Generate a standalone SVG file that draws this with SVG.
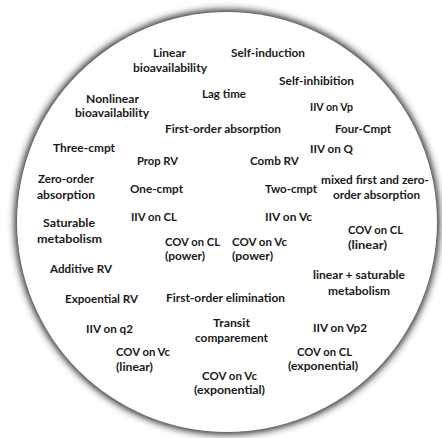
<svg xmlns="http://www.w3.org/2000/svg" width="442" height="438" viewBox="0 0 442 438">
  <style>
    .lbl { font-family: Lato, "Open Sans", "Liberation Sans", sans-serif; font-weight: bold; font-size: 12px; fill: #1a1a1a; }
  </style>
  <defs>
    <filter id="rim" x="-10%" y="-10%" width="120%" height="120%">
      <feGaussianBlur stdDeviation="3.5"/>
    </filter>
  </defs>
  <rect width="442" height="438" fill="#fff"/>
  <!-- circular field with soft grey rim -->
  <g id="field">
    <circle cx="227" cy="222" r="212.5" fill="#2e2e2e" filter="url(#rim)"/>
    <circle cx="227" cy="222" r="210" fill="#fff"/>
  </g>
  <g id="labels" class="lbl">
    <g id="linear-bioavailability">
      <text x="153" y="57" textLength="33" lengthAdjust="spacingAndGlyphs">Linear</text>
      <text x="133" y="72" textLength="74" lengthAdjust="spacingAndGlyphs">bioavailability</text>
    </g>
    <g id="self-induction"><text x="231" y="57" textLength="74" lengthAdjust="spacingAndGlyphs">Self-induction</text></g>
    <g id="self-inhibition"><text x="279" y="85" textLength="75" lengthAdjust="spacingAndGlyphs">Self-inhibition</text></g>
    <g id="nonlinear-bioavailability">
      <text x="86" y="103" textLength="53" lengthAdjust="spacingAndGlyphs">Nonlinear</text>
      <text x="75" y="117" textLength="74" lengthAdjust="spacingAndGlyphs">bioavailability</text>
    </g>
    <g id="lag-time"><text x="202" y="98" textLength="44" lengthAdjust="spacingAndGlyphs">Lag time</text></g>
    <g id="iiv-vp"><text x="310" y="111" textLength="43" lengthAdjust="spacingAndGlyphs">IIV on Vp</text></g>
    <g id="first-order-absorption"><text x="165" y="133" textLength="116" lengthAdjust="spacingAndGlyphs">First-order absorption</text></g>
    <g id="four-cmpt"><text x="335" y="133" textLength="56" lengthAdjust="spacingAndGlyphs">Four-Cmpt</text></g>
    <g id="three-cmpt"><text x="53" y="152" textLength="62" lengthAdjust="spacingAndGlyphs">Three-cmpt</text></g>
    <g id="iiv-q"><text x="310" y="153" textLength="43" lengthAdjust="spacingAndGlyphs">IIV on Q</text></g>
    <g id="prop-rv"><text x="137" y="165" textLength="41" lengthAdjust="spacingAndGlyphs">Prop RV</text></g>
    <g id="comb-rv"><text x="250" y="165" textLength="49" lengthAdjust="spacingAndGlyphs">Comb RV</text></g>
    <g id="zero-order-absorption">
      <text x="38" y="183" textLength="56" lengthAdjust="spacingAndGlyphs">Zero-order</text>
      <text x="37" y="199" textLength="58" lengthAdjust="spacingAndGlyphs">absorption</text>
    </g>
    <g id="one-cmpt"><text x="130" y="193" textLength="53" lengthAdjust="spacingAndGlyphs">One-cmpt</text></g>
    <g id="two-cmpt"><text x="265" y="193" textLength="52" lengthAdjust="spacingAndGlyphs">Two-cmpt</text></g>
    <g id="mixed-absorption">
      <text x="321" y="184" textLength="108" lengthAdjust="spacingAndGlyphs">mixed first and zero-</text>
      <text x="333" y="199" textLength="87" lengthAdjust="spacingAndGlyphs">order absorption</text>
    </g>
    <g id="iiv-cl"><text x="131" y="221" textLength="46" lengthAdjust="spacingAndGlyphs">IIV on CL</text></g>
    <g id="iiv-vc"><text x="265" y="221" textLength="47" lengthAdjust="spacingAndGlyphs">IIV on Vc</text></g>
    <g id="saturable-metabolism">
      <text x="43" y="227" textLength="52" lengthAdjust="spacingAndGlyphs">Saturable</text>
      <text x="37" y="243" textLength="65" lengthAdjust="spacingAndGlyphs">metabolism</text>
    </g>
    <g id="cov-cl-linear">
      <text x="348" y="234" textLength="55" lengthAdjust="spacingAndGlyphs">COV on CL</text>
      <text x="348" y="249" textLength="39" lengthAdjust="spacingAndGlyphs">(linear)</text>
    </g>
    <g id="cov-cl-power">
      <text x="165" y="246" textLength="55" lengthAdjust="spacingAndGlyphs">COV on CL</text>
      <text x="165" y="260" textLength="40" lengthAdjust="spacingAndGlyphs">(power)</text>
    </g>
    <g id="cov-vc-power">
      <text x="232" y="246" textLength="55" lengthAdjust="spacingAndGlyphs">COV on Vc</text>
      <text x="232" y="260" textLength="41" lengthAdjust="spacingAndGlyphs">(power)</text>
    </g>
    <g id="additive-rv"><text x="50" y="273" textLength="62" lengthAdjust="spacingAndGlyphs">Additive RV</text></g>
    <g id="linear-saturable-metabolism">
      <text x="313" y="279" textLength="92" lengthAdjust="spacingAndGlyphs">linear + saturable</text>
      <text x="328" y="295" textLength="62" lengthAdjust="spacingAndGlyphs">metabolism</text>
    </g>
    <g id="exponential-rv"><text x="65" y="303" textLength="73" lengthAdjust="spacingAndGlyphs">Expoential RV</text></g>
    <g id="first-order-elimination"><text x="166" y="302" textLength="119" lengthAdjust="spacingAndGlyphs">First-order elimination</text></g>
    <g id="transit-compartment">
      <text x="213" y="327" textLength="37" lengthAdjust="spacingAndGlyphs">Transit</text>
      <text x="195" y="342" textLength="73" lengthAdjust="spacingAndGlyphs">comparement</text>
    </g>
    <g id="iiv-q2"><text x="86" y="333" textLength="47" lengthAdjust="spacingAndGlyphs">IIV on q2</text></g>
    <g id="iiv-vp2"><text x="313" y="332" textLength="54" lengthAdjust="spacingAndGlyphs">IIV on Vp2</text></g>
    <g id="cov-vc-linear">
      <text x="116" y="356" textLength="54" lengthAdjust="spacingAndGlyphs">COV on Vc</text>
      <text x="116" y="371" textLength="37" lengthAdjust="spacingAndGlyphs">(linear)</text>
    </g>
    <g id="cov-cl-exponential">
      <text x="297" y="356" textLength="55" lengthAdjust="spacingAndGlyphs">COV on CL</text>
      <text x="288" y="370" textLength="70" lengthAdjust="spacingAndGlyphs">(exponential)</text>
    </g>
    <g id="cov-vc-exponential">
      <text x="202" y="380" textLength="55" lengthAdjust="spacingAndGlyphs">COV on Vc</text>
      <text x="194" y="394" textLength="71" lengthAdjust="spacingAndGlyphs">(exponential)</text>
    </g>
  </g>
</svg>
